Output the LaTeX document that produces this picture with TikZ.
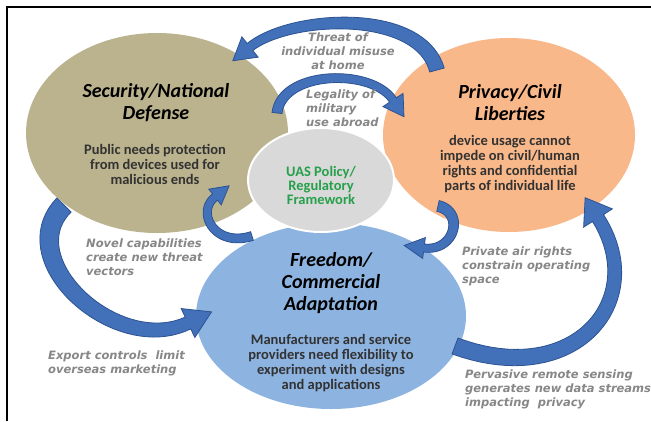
\documentclass[tikz,border=0pt]{standalone}
\usepackage{fontspec}
\setmainfont{Carlito}
\newfontfamily\labelfont{DejaVu Sans}
\usetikzlibrary{shapes.geometric}

\definecolor{tanfill}{RGB}{186,179,142}
\definecolor{peachfill}{RGB}{249,184,138}
\definecolor{bluefill}{RGB}{141,179,225}
\definecolor{greyfill}{RGB}{217,217,217}
\definecolor{policygreen}{RGB}{38,160,75}
\definecolor{arrowfill}{RGB}{66,113,186}
\definecolor{arrowedge}{RGB}{44,82,145}
\definecolor{labelgrey}{RGB}{135,135,135}
\definecolor{bodytext}{RGB}{50,50,50}

% shaft and head sizes of the next block arrow: start width, end width, head width, head length
\newcommand\setshaft[4]{\def\wa{#1}\def\wb{#2}\def\hw{#3}\def\hl{#4}}
% tapered block arrow along the cubic curve (P0)(P1)(P2)(P3), head at P3
\def\tarrow(#1,#2)(#3,#4)(#5,#6)(#7,#8){%
  \def\pax{#1}\def\pay{#2}\def\pbx{#3}\def\pby{#4}%
  \def\pcx{#5}\def\pcy{#6}\def\pdx{#7}\def\pdy{#8}%
  \pgfmathsetmacro\tdx{#7-#5}\pgfmathsetmacro\tdy{#8-#6}%
  \pgfmathsetmacro\tdl{veclen(\tdx,\tdy)}%
  \pgfmathsetmacro\tux{\tdx/\tdl}\pgfmathsetmacro\tuy{\tdy/\tdl}%
  \fill[blockarrow]
    plot[domain=0:1, samples=40, variable=\u]
      ({bzx(\u)+wz(\u)/2*nzx(\u)},{bzy(\u)+wz(\u)/2*nzy(\u)})
    -- ({#7-\hw/2*\tuy},{#8+\hw/2*\tux})
    -- ({#7+\hl*\tux},{#8+\hl*\tuy})
    -- ({#7+\hw/2*\tuy},{#8-\hw/2*\tux})
    -- plot[domain=0:1, samples=40, variable=\u]
      ({bzx(1-\u)-wz(1-\u)/2*nzx(1-\u)},{bzy(1-\u)-wz(1-\u)/2*nzy(1-\u)})
    -- cycle;
}

\tikzset{
  declare function={
    bzx(\t)=(1-\t)*(1-\t)*(1-\t)*\pax+3*(1-\t)*(1-\t)*\t*\pbx+3*(1-\t)*\t*\t*\pcx+\t*\t*\t*\pdx;
    bzy(\t)=(1-\t)*(1-\t)*(1-\t)*\pay+3*(1-\t)*(1-\t)*\t*\pby+3*(1-\t)*\t*\t*\pcy+\t*\t*\t*\pdy;
    dzx(\t)=(1-\t)*(1-\t)*(\pbx-\pax)+2*(1-\t)*\t*(\pcx-\pbx)+\t*\t*(\pdx-\pcx);
    dzy(\t)=(1-\t)*(1-\t)*(\pby-\pay)+2*(1-\t)*\t*(\pcy-\pby)+\t*\t*(\pdy-\pcy);
    nzx(\t)=-dzy(\t)/veclen(dzx(\t),dzy(\t));
    nzy(\t)=dzx(\t)/veclen(dzx(\t),dzy(\t));
    wz(\t)=\wa+(\wb-\wa)*\t;
  },
  blockarrow/.style={fill=arrowfill, draw=arrowedge, line width=0.8pt, line join=miter},
  area/.style={ellipse, inner sep=0pt, draw=none},
  title/.style={font=\fontsize{20}{22}\selectfont\bfseries\itshape, align=center,
    text=black, inner sep=0pt},
  body/.style={font=\fontsize{14.5}{15}\selectfont\bfseries, align=center,
    text=bodytext, inner sep=0pt},
  policy/.style={font=\fontsize{14.5}{14}\selectfont\bfseries, align=center,
    text=policygreen, inner sep=0pt},
  note/.style={font=\labelfont\bfseries\itshape\fontsize{11.5}{14}\selectfont,
    text=labelgrey, inner sep=0pt},
}

\begin{document}
\begin{tikzpicture}[x=1pt, y=-1pt]
  \useasboundingbox (0,0) rectangle (651,421);
  \fill[white] (0,0) rectangle (651,421);

  % the four areas
  \node[area, fill=tanfill, minimum width=262pt, minimum height=200pt] (security) at (157,133) {};
  \node[area, fill=peachfill, minimum width=252pt, minimum height=194pt] (privacy) at (509,135) {};
  \node[area, fill=bluefill, minimum width=270pt, minimum height=186pt] (freedom) at (331,316) {};
  \node[area, fill=greyfill, draw=white, line width=2pt, minimum width=146pt, minimum height=104pt] (policy) at (321,180) {};

  % block arrows between the areas
  \setshaft{15}{9}{26}{22}\tarrow(437,70)(420,8)(290,15)(250,47)
  \setshaft{10}{8}{24}{20}\tarrow(277,113)(282,70)(372,68)(393,100)
  \setshaft{20}{13}{32}{26}\tarrow(64,205)(10,260)(116,357)(188,323)
  \setshaft{9}{8}{20}{18}\tarrow(252,236)(215,248)(195.5,212.5)(215,197)
  \setshaft{11}{8}{21}{20}\tarrow(438,206)(465,212)(455,252)(424,248)
  \setshaft{17}{13}{34}{24}\tarrow(455,346)(575,390)(650,300)(598,218)

  % area texts
  \node[title] (sectitle) at (156,103) {Security/National\\Defense};
  \node[body] (secbody) at (155,164) {Public needs protection\\from devices used for\\malicious ends};
  \node[title] (privtitle) at (510,103) {Privacy/Civil\\Liberties};
  \node[body] (privbody) at (510,164) {device usage cannot\\impede on civil/human\\rights and confidential\\parts of individual life};
  \node[policy] (policytext) at (321,185) {UAS Policy/\\Regulatory\\Framework};
  \node[title] (freetitle) at (331,283) {Freedom/\\Commercial\\Adaptation};
  \node[body] (freebody) at (331,363) {Manufacturers and service\\providers need flexibility to\\experiment with designs\\and applications};

  % arrow labels
  \node[note, align=center] (threat) at (338,51) {Threat of\\individual misuse\\at home};
  \node[note, align=left, anchor=west] (legal) at (306,108) {Legality of\\military\\use abroad};
  \node[note, align=left, anchor=west] (novel) at (86,257) {Novel capabilities\\create new threat\\vectors};
  \node[note, align=left, anchor=west] (private) at (462,266) {Private air rights\\constrain operating\\space};
  \node[note, align=left, anchor=west] (export) at (48,363) {Export controls\ \ limit\\overseas marketing};
  \node[note, align=left, anchor=west] (pervasive) at (465,389) {Pervasive remote sensing\\generates new data streams\\impacting\ \ privacy};

  % frame
  \draw[line width=2pt] (7,421) -- (7,6.5) -- (651,6.5);
\end{tikzpicture}
\end{document}
